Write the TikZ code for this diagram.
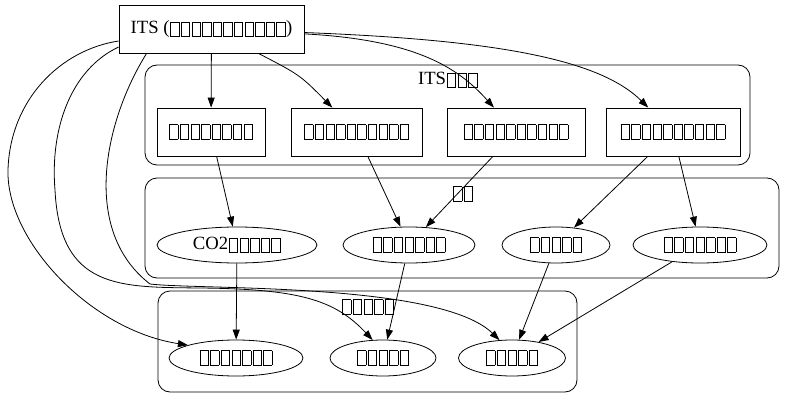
\documentclass[tikz,border=0pt]{standalone}
\usepackage{fontspec}
\setmainfont{Liberation Serif}
\usetikzlibrary{shapes.geometric,arrows.meta}
\setlength{\fboxsep}{0pt}
\setlength{\fboxrule}{0.6pt}
\newcommand{\tofu}{\kern0.8pt\raisebox{-3pt}{\fbox{\rule{0pt}{14pt}\rule{7.8pt}{0pt}}}\kern0.8pt}
\newcommand{\tofus}[1]{\foreach \k in {1,...,#1}{\tofu}}
\begin{document}
\begin{tikzpicture}[x=1pt, y=-1pt, font=\fontsize{18.67}{22}\selectfont, line width=0.8pt, >={Triangle[length=10pt,width=7pt]}, main/.style = {draw, rectangle, minimum height=48pt, inner sep=0pt}, oval/.style = {draw, ellipse, minimum height=36pt, inner sep=0pt}, grp/.style = {draw, rounded corners=12pt}]
\useasboundingbox (0,0) rectangle (795,409);

\draw[grp] (145,65) rectangle (750,165);
\draw[grp] (145,178) rectangle (779,278);
\draw[grp] (158,291) rectangle (577,392);
\node (g1) at (448,80) {ITS\tofus{3}};
\node (g2) at (463,194) {\tofus{2}};
\node (g3) at (368,307) {\tofus{5}};

\node[main, minimum width=185pt] (its) at (211.5,29) {ITS (\tofus{11})};

\node[main, minimum width=108pt] (1) at (211,132) {\tofus{8}};
\node[main, minimum width=131pt] (2) at (356.5,132) {\tofus{10}};
\node[main, minimum width=138pt] (3) at (516,132) {\tofus{10}};
\node[main, minimum width=134pt] (4) at (673,132) {\tofus{10}};

\node[oval, minimum width=160pt] (5) at (237,245) {CO2\tofus{5}};
\node[oval, minimum width=132pt] (6) at (409,245) {\tofus{7}};
\node[oval, minimum width=108pt] (7) at (556,245) {\tofus{5}};
\node[oval, minimum width=134pt] (8) at (700,245) {\tofus{7}};

\node[oval, minimum width=134pt] (9) at (236,358) {\tofus{7}};
\node[oval, minimum width=106pt] (10) at (383,358) {\tofus{5}};
\node[oval, minimum width=107pt] (11) at (512,358) {\tofus{5}};

\draw[->] (its)--(1);
\draw[->] (its) .. controls (300,75) .. (2);
\draw[->] (its) .. controls (420,40) and (460,70) .. (3);
\draw[->] (its) .. controls (500,40) and (600,60) .. (4);

\draw[->] (1)--(5);
\draw[->] (2)--(6); \draw[->] (3)--(6);
\draw[->] (4)--(7); \draw[->] (4)--(8);

\draw[->] (5)--(9);
\draw[->] (6)--(10);
\draw[->] (7)--(11); \draw[->] (8)--(11);

\draw[->] ([yshift=-12pt]its.west) .. controls (60,50) and (10,100) .. (8,170) .. controls (6,240) and (90,330) .. (9.165);
\draw[->] ([yshift=-18pt]its.west) .. controls (70,70) and (50,130) .. (55,190) .. controls (60,290) and (120,287) .. (200,288) .. controls (300,289) and (335,300) .. (10.120);
\draw[->] ([xshift=28pt]its.south west) .. controls (105,120) and (80,230) .. (150,284) .. controls (200,290) and (440,282) .. (11.125);

\end{tikzpicture}
\end{document}
